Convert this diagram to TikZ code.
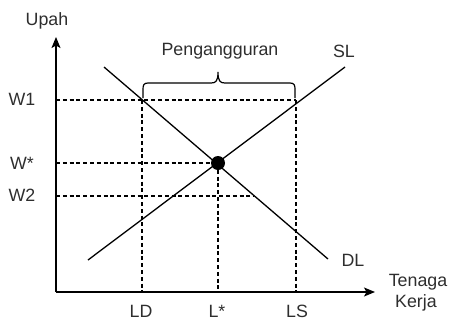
\documentclass[tikz,border=0pt]{standalone}
\usepackage{fontspec}
\setmainfont{Liberation Sans}
\usetikzlibrary{arrows.meta}
\definecolor{txt}{HTML}{2E2E2E}
\begin{document}
\begin{tikzpicture}[x=1pt,y=-1pt,
  lbl/.style={anchor=base,inner sep=0pt,text=txt,font=\fontsize{17.8}{21}\selectfont},
  axis/.style={line width=1.4pt,-{Stealth[length=11pt,width=9pt,inset=2.5pt]}},
  curve/.style={line width=1.3pt},
  guide/.style={line width=1.1pt,dash pattern=on 4pt off 2.8pt}]
\useasboundingbox (0,0) rectangle (450,322);
% key points
\coordinate (O) at (56,292);
\coordinate (ytip) at (56,37);
\coordinate (xtip) at (375,292);
\coordinate (yW1) at (56,100);
\coordinate (yWs) at (56,163);
\coordinate (yW2) at (56,196);
\coordinate (pD) at (142,100);
\coordinate (pS) at (296,100);
\coordinate (E) at (218,163);
\coordinate (pW2) at (254,196);
\coordinate (xLD) at (142,292);
\coordinate (xLs) at (218,292);
\coordinate (xLS) at (296,292);
\coordinate (DLa) at (104,67);
\coordinate (DLb) at (328,259);
\coordinate (SLa) at (88,260);
\coordinate (SLb) at (345,67);
% guides
\draw[guide] (yW1) -- (pS);
\draw[guide] (yWs) -- (E);
\draw[guide] (yW2) -- (pW2);
\draw[guide] (pD) -- (xLD);
\draw[guide] (E) -- (xLs);
\draw[guide] (pS) -- (xLS);
% curves
\draw[curve] (DLa) -- (DLb);
\draw[curve] (SLa) -- (SLb);
% axes
\draw[axis] (O) -- (ytip);
\draw[axis] (O) -- (xtip);
% equilibrium point
\fill (E) circle (7);
% brace
\draw[line width=1.2pt] (143,98) -- (143,89) .. controls (143,85) and (144,83) .. (148,83)
  -- (211,83) .. controls (216,83) and (218,81) .. (218,72)
  .. controls (218,81) and (220,83) .. (225,83)
  -- (290,83) .. controls (294,83) and (295,85) .. (295,89) -- (295,98);
% labels
\node[lbl] (upah) at (47,25) {Upah};
\node[lbl] (peng) at (220,55.5) {Pengangguran};
\node[lbl] (sl) at (344,57) {SL};
\node[lbl] (dl) at (353,266) {DL};
\node[lbl] (w1) at (22,105.5) {W1};
\node[lbl] (ws) at (22,169) {W*};
\node[lbl] (w2) at (22,201.5) {W2};
\node[lbl] (ld) at (141,317) {LD};
\node[lbl] (ls) at (217,317) {L*};
\node[lbl] (lS) at (297,317) {LS};
\node[lbl] (ten) at (418,286) {Tenaga};
\node[lbl] (ker) at (416,307) {Kerja};
\end{tikzpicture}
\end{document}
